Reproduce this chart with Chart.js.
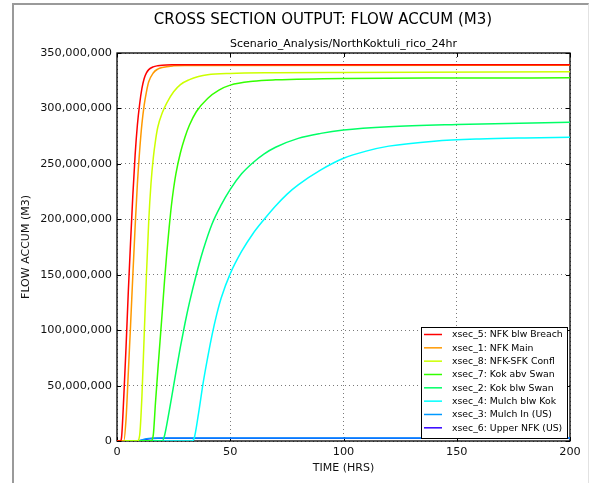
<!DOCTYPE html>
<html lang="en">
<head>
    <meta charset="UTF-8">
    <title>Cross Section Output: Flow Accum</title>
    <style>
        body {
            margin: 0;
            background: #fff;
        }
        .wrap {
            position: relative;
            width: 590px;
            height: 483px;
            overflow: hidden;
        }
        .wrap canvas {
            position: absolute;
            left: 0;
            top: 0;
        }
        .fig-frame {
            position: absolute;
            left: 12px;
            top: 3px;
            width: 574px;
            height: 500px;
            border-left: 2px solid #9a9a9a;
            border-top: 2px solid #9a9a9a;
            border-right: 1px solid #e2e2e2;
            pointer-events: none;
        }
    </style>
    <script src="https://cdn.jsdelivr.net/npm/chart.js"></script>
</head>
<body>
<div class="wrap">
    <canvas id="chart" width="590" height="483"></canvas>
    <div class="fig-frame"></div>
</div>

<script>
    // hours / flow accumulation in millions of m3
    const hrs5 = [0, 1.5, 2, 3, 4, 5, 6, 7, 8, 9, 10, 11, 12, 13, 14, 16, 18, 20, 25, 30, 200];
    const q5   = [0, 0, 3, 40, 85, 135, 180, 222, 258, 285, 304, 318, 327, 332, 335, 337.5, 338.5, 339, 339.4, 339.5, 339.5];

    const hrs1 = [0, 3, 4, 5, 6, 7, 8, 9, 10, 11, 12, 13, 14, 16, 18, 20, 25, 30, 200];
    const q1   = [0, 0, 20, 62, 105, 150, 193, 232, 262, 286, 303, 315, 324, 332, 335.5, 337, 338.4, 338.8, 339];

    const hrs8 = [0, 9, 10, 11, 12, 13, 14, 15, 16, 17, 18, 20, 22, 25, 28, 32, 36, 40, 50, 70, 100, 200];
    const q8   = [0, 0, 5, 40, 95, 150, 198, 232, 255, 271, 283, 296, 305, 315, 321.5, 326, 328.8, 330.4, 331.6, 332.2, 332.5, 333];

    const hrs7 = [0, 15, 16, 17, 18, 19, 20, 21, 22, 23, 24, 25, 26, 28, 30, 32, 35, 40, 45, 50, 60, 70, 100, 150, 200];
    const q7   = [0, 0, 5, 35, 63, 90, 117, 145, 170, 192, 212, 228, 241, 260, 274, 285, 297, 309, 316.5, 321, 324.5, 325.8, 327.1, 327.4, 327.6];

    const hrs2 = [0, 20, 21, 22, 24, 26, 28, 30, 32, 35, 38, 42, 46, 50, 55, 60, 65, 70, 80, 90, 100, 120, 150, 200];
    const q2   = [0, 0, 5, 15, 38, 62, 85, 106, 125, 150, 172, 196, 213, 227, 241, 251, 259, 265, 273, 277.5, 280.5, 283.5, 285.5, 287.5];

    const hrs4 = [0, 33, 34, 36, 38, 40, 42, 44, 46, 50, 55, 60, 65, 70, 75, 80, 90, 100, 110, 120, 140, 160, 180, 200];
    const q4   = [0, 0, 2, 25, 52, 75, 96, 114, 129, 151, 171, 187, 200, 212, 222.5, 231, 244.5, 255, 261.5, 266, 270.5, 272.5, 273.4, 273.9];

    const hrs3 = [0, 8, 10, 12, 14, 16, 20, 200];
    const q3   = [0, 0, 0.5, 1.5, 2.2, 2.5, 2.6, 2.6];

    const hrs6 = [0, 9, 11, 13, 15, 18, 200];
    const q6   = [0, 0, 0.6, 1.6, 2.3, 2.5, 2.5];

    const seriesNames = [
        'xsec_5: NFK blw Breach',
        'xsec_1: NFK Main',
        'xsec_8: NFK-SFK Confl',
        'xsec_7: Kok abv Swan',
        'xsec_2: Kok blw Swan',
        'xsec_4: Mulch blw Kok',
        'xsec_3: Mulch In (US)',
        'xsec_6: Upper NFK (US)'
    ];
    const seriesColors = ['#ff0000', '#ff9900', '#ccff00', '#33ff00', '#00ff66', '#00ffff', '#0099ff', '#3300ff'];
    const seriesHours = [hrs5, hrs1, hrs8, hrs7, hrs2, hrs4, hrs3, hrs6];
    const seriesFlow = [q5, q1, q8, q7, q2, q4, q3, q6];

    const xTicks = [0, 50, 100, 150, 200];
    const mainTitle = 'CROSS SECTION OUTPUT: FLOW ACCUM (M3)';
    const subTitle = 'Scenario_Analysis/NorthKoktuli_rico_24hr';
    const FONT = '"DejaVu Sans", sans-serif';

    const datasets = seriesNames.map((name, i) => ({
        label: name,
        data: seriesHours[i].map((h, k) => ({ x: h, y: seriesFlow[i][k] * 1e6 })),
        borderColor: seriesColors[i],
        backgroundColor: seriesColors[i],
        borderWidth: 1.5,
        pointRadius: 0,
        fill: false,
        cubicInterpolationMode: 'monotone'
    }));

    // plot frame, inward ticks, titles and the boxed legend
    const decor = {
        id: 'decor',
        beforeDraw(chart) {
            const ctx = chart.ctx;
            ctx.save();
            ctx.fillStyle = '#fff';
            ctx.fillRect(0, 0, chart.width, chart.height);
            ctx.restore();
        },
        beforeDatasetsDraw(chart) {
            const { ctx, chartArea: a, scales } = chart;
            ctx.save();
            ctx.strokeStyle = '#000';
            ctx.lineWidth = 1;
            ctx.beginPath();
            scales.x.ticks.forEach(t => {
                const px = Math.round(scales.x.getPixelForValue(t.value)) + 0.5;
                ctx.moveTo(px, a.bottom); ctx.lineTo(px, a.bottom - 4);
                ctx.moveTo(px, a.top); ctx.lineTo(px, a.top + 4);
            });
            scales.y.ticks.forEach(t => {
                const py = Math.round(scales.y.getPixelForValue(t.value)) + 0.5;
                ctx.moveTo(a.left, py); ctx.lineTo(a.left + 4, py);
                ctx.moveTo(a.right, py); ctx.lineTo(a.right - 4, py);
            });
            ctx.stroke();
            ctx.lineWidth = 1.3;
            ctx.strokeRect(a.left, a.top, a.right - a.left, a.bottom - a.top);
            ctx.restore();
        },
        afterDraw(chart) {
            const { ctx, chartArea: a } = chart;
            ctx.save();
            ctx.fillStyle = '#000';
            ctx.textAlign = 'center';
            ctx.textBaseline = 'middle';
            ctx.font = '15px ' + FONT;
            ctx.fillText(mainTitle, 323, 20);
            ctx.font = '11px ' + FONT;
            ctx.fillText(subTitle, (a.left + a.right) / 2, 44);

            // legend
            const bx = 421, by = 327, bw = 146, bh = 111;
            ctx.fillStyle = '#fff';
            ctx.fillRect(bx, by, bw, bh);
            ctx.strokeStyle = '#000';
            ctx.lineWidth = 1;
            ctx.strokeRect(bx + 0.5, by + 0.5, bw, bh);
            ctx.font = '9.3px ' + FONT;
            ctx.textAlign = 'left';
            chart.data.datasets.forEach((ds, i) => {
                const ry = 334.5 + i * 13.33;
                ctx.strokeStyle = ds.borderColor;
                ctx.lineWidth = 1.5;
                ctx.beginPath();
                ctx.moveTo(424, ry);
                ctx.lineTo(442, ry);
                ctx.stroke();
                ctx.fillStyle = '#000';
                ctx.fillText(ds.label, 452, ry + 0.5);
            });
            ctx.restore();
        }
    };

    new Chart(document.getElementById('chart'), {
        type: 'line',
        data: { datasets },
        plugins: [decor],
        options: {
            responsive: false,
            animation: false,
            layout: { padding: { top: 53, right: 20, left: 0, bottom: 0 } },
            plugins: {
                legend: { display: false },
                title: { display: false },
                tooltip: { enabled: false }
            },
            scales: {
                x: {
                    type: 'linear',
                    min: 0,
                    max: 200,
                    afterBuildTicks: scale => {
                        scale.ticks = xTicks.map(v => ({ value: v }));
                    },
                    afterFit: scale => { scale.height = 42; },
                    grid: { color: '#7a7a7a', lineWidth: 1, drawTicks: false },
                    border: { display: false, dash: [1, 3] },
                    ticks: {
                        color: '#111',
                        padding: 4,
                        maxRotation: 0,
                        font: { family: FONT, size: 11.3 }
                    },
                    title: {
                        display: true,
                        text: 'TIME (HRS)',
                        color: '#111',
                        padding: { top: 0, bottom: 8 },
                        font: { family: FONT, size: 11 }
                    }
                },
                y: {
                    min: 0,
                    max: 350000000,
                    afterFit: scale => { scale.width = 117; },
                    grid: { color: '#7a7a7a', lineWidth: 1, drawTicks: false },
                    border: { display: false, dash: [1, 3] },
                    ticks: {
                        stepSize: 50000000,
                        color: '#111',
                        padding: 5,
                        font: { family: FONT, size: 11.3 },
                        callback: value => value.toString().replace(/\B(?=(\d{3})+(?!\d))/g, ',')
                    },
                    title: {
                        display: true,
                        text: 'FLOW ACCUM (M3)',
                        color: '#111',
                        padding: { top: 20, bottom: 0 },
                        font: { family: FONT, size: 11 }
                    }
                }
            }
        }
    });
</script>
</body>
</html>
